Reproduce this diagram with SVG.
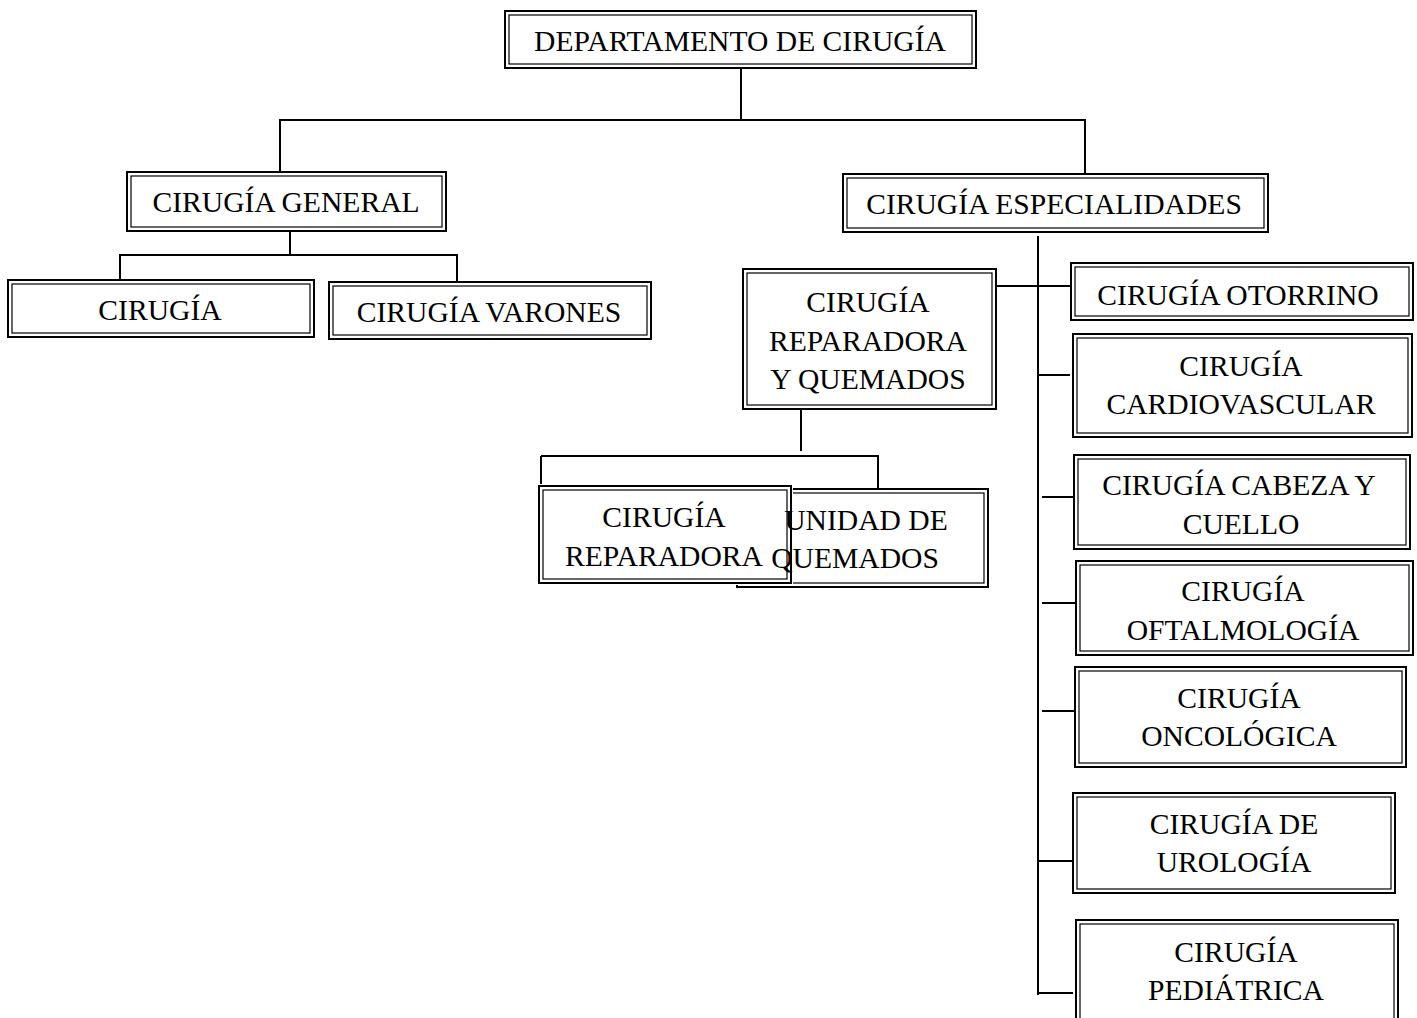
<svg xmlns="http://www.w3.org/2000/svg" width="1417" height="1018" viewBox="0 0 1417 1018">
  <style>
    .outer { fill: #ffffff; stroke: #000000; stroke-width: 2; }
    .inner { fill: none; stroke: #000000; stroke-width: 1.2; }
    .hollow { fill: none; }
    .lbl { font-family: "Liberation Serif", "Times New Roman", serif; font-size: 29.6px; fill: #000000; text-anchor: middle; }
    .wire { stroke: #000000; stroke-width: 2; fill: none; }
  </style>
  <defs>
    <!-- everything except the area covered by the front "Cirugía reparadora" box -->
    <clipPath id="outside-front">
      <path clip-rule="evenodd" d="M0 0H1417V1018H0Z M537 484V585H793V484Z"/>
    </clipPath>
  </defs>
  <rect width="1417" height="1018" fill="#ffffff"/>

  <!-- connectors -->
  <g id="connectors">
    <path class="wire" d="M741 68V121"/>
    <path class="wire" d="M279 120H1086"/>
    <path class="wire" d="M280 120V172"/>
    <path class="wire" d="M1085 120V174"/>
    <path class="wire" d="M290 231V256"/>
    <path class="wire" d="M119 255H458"/>
    <path class="wire" d="M120 255V280"/>
    <path class="wire" d="M457 255V282"/>
    <path class="wire" d="M1038 236V995"/>
    <path class="wire" d="M996 286H1071"/>
    <path class="wire" d="M1037 375H1070"/>
    <path class="wire" d="M1042 497H1078"/>
    <path class="wire" d="M1042 603H1079"/>
    <path class="wire" d="M1042 711H1080"/>
    <path class="wire" d="M1038 861H1072"/>
    <path class="wire" d="M1039 993H1073"/>
    <path class="wire" d="M801 410V451"/>
    <path class="wire" d="M541 456H879"/>
    <path class="wire" d="M541 456V484"/>
    <path class="wire" d="M878 456V489"/>
  </g>

  <g id="departamento">
    <rect class="outer" x="505" y="11" width="471" height="57"/>
    <rect class="inner" x="509" y="15" width="463" height="49"/>
    <text class="lbl" x="740" y="51">DEPARTAMENTO DE CIRUGÍA</text>
  </g>

  <g id="cirugia-general">
    <rect class="outer" x="127" y="172" width="319" height="59"/>
    <rect class="inner" x="131" y="176" width="311" height="51"/>
    <text class="lbl" x="286" y="212">CIRUGÍA GENERAL</text>
  </g>

  <g id="cirugia">
    <rect class="outer" x="8" y="280" width="306" height="57"/>
    <rect class="inner" x="12" y="284" width="298" height="49"/>
    <text class="lbl" x="160" y="320">CIRUGÍA</text>
  </g>

  <g id="cirugia-varones">
    <rect class="outer" x="329" y="282" width="322" height="57"/>
    <rect class="inner" x="333" y="286" width="314" height="49"/>
    <text class="lbl" x="489" y="322">CIRUGÍA VARONES</text>
  </g>

  <g id="cirugia-especialidades">
    <rect class="outer" x="843" y="174" width="425" height="58"/>
    <rect class="inner" x="847" y="178" width="417" height="50"/>
    <text class="lbl" x="1054" y="214">CIRUGÍA ESPECIALIDADES</text>
  </g>

  <g id="reparadora-quemados">
    <rect class="outer" x="743" y="269" width="253" height="140"/>
    <rect class="inner" x="747" y="273" width="245" height="132"/>
    <text class="lbl" x="868" y="312">CIRUGÍA</text>
    <text class="lbl" x="868" y="351">REPARADORA</text>
    <text class="lbl" x="868" y="389">Y QUEMADOS</text>
  </g>

  <g id="cirugia-reparadora">
    <rect class="outer" x="539" y="486" width="252" height="97"/>
    <rect class="inner" x="543" y="490" width="244" height="89"/>
    <text class="lbl" x="664" y="527">CIRUGÍA</text>
    <text class="lbl" x="664" y="566">REPARADORA</text>
  </g>

  <!-- sits partly behind the box above; its frame is hidden where they overlap -->
  <g id="unidad-quemados">
    <g clip-path="url(#outside-front)">
      <rect class="outer hollow" x="737" y="489" width="251" height="98"/>
      <rect class="inner" x="741" y="493" width="243" height="90"/>
    </g>
    <text class="lbl" x="866" y="530">UNIDAD DE</text>
    <text class="lbl" x="855" y="568">QUEMADOS</text>
  </g>

  <g id="otorrino">
    <rect class="outer" x="1071" y="263" width="342" height="57"/>
    <rect class="inner" x="1075" y="267" width="334" height="49"/>
    <text class="lbl" x="1238" y="305">CIRUGÍA OTORRINO</text>
  </g>

  <g id="cardiovascular">
    <rect class="outer" x="1073" y="334" width="339" height="103"/>
    <rect class="inner" x="1077" y="338" width="331" height="95"/>
    <text class="lbl" x="1241" y="376">CIRUGÍA</text>
    <text class="lbl" x="1241" y="414">CARDIOVASCULAR</text>
  </g>

  <g id="cabeza-cuello">
    <rect class="outer" x="1074" y="455" width="336" height="94"/>
    <rect class="inner" x="1078" y="459" width="328" height="86"/>
    <text class="lbl" x="1239" y="495">CIRUGÍA CABEZA Y</text>
    <text class="lbl" x="1241" y="534">CUELLO</text>
  </g>

  <g id="oftalmologia">
    <rect class="outer" x="1076" y="561" width="337" height="94"/>
    <rect class="inner" x="1080" y="565" width="329" height="86"/>
    <text class="lbl" x="1243" y="601">CIRUGÍA</text>
    <text class="lbl" x="1243" y="640">OFTALMOLOGÍA</text>
  </g>

  <g id="oncologica">
    <rect class="outer" x="1075" y="667" width="331" height="100"/>
    <rect class="inner" x="1079" y="671" width="323" height="92"/>
    <text class="lbl" x="1239" y="708">CIRUGÍA</text>
    <text class="lbl" x="1239" y="746">ONCOLÓGICA</text>
  </g>

  <g id="urologia">
    <rect class="outer" x="1073" y="793" width="322" height="100"/>
    <rect class="inner" x="1077" y="797" width="314" height="92"/>
    <text class="lbl" x="1234" y="834">CIRUGÍA DE</text>
    <text class="lbl" x="1234" y="872">UROLOGÍA</text>
  </g>

  <g id="pediatrica">
    <rect class="outer" x="1076" y="920" width="322" height="104"/>
    <rect class="inner" x="1080" y="924" width="314" height="96"/>
    <text class="lbl" x="1236" y="962">CIRUGÍA</text>
    <text class="lbl" x="1236" y="1000">PEDIÁTRICA</text>
  </g>
</svg>
